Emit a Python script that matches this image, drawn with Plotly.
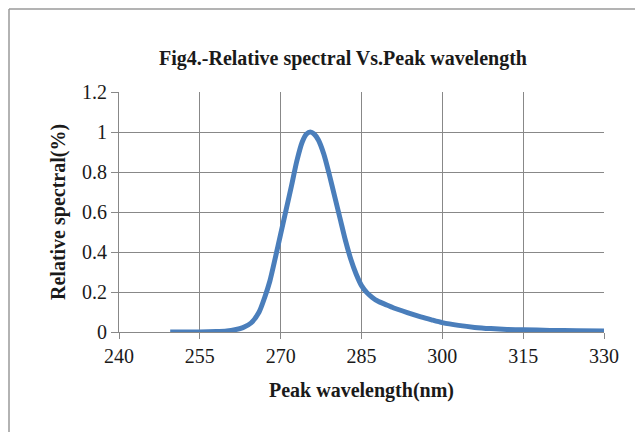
import plotly.graph_objects as go

# Data
wavelength = [249.5, 255, 258, 260, 261.5, 263, 264.5, 266, 267, 268, 269, 270, 271, 272, 273, 274,
              274.8, 275.5, 276.2, 277, 278, 279, 280, 281, 282, 283, 284, 285, 286, 287, 288, 289.5,
              291, 293.5, 296, 298, 300, 303, 306, 309, 312, 315, 320, 325, 330]
relative = [0.0, 0.0, 0.002, 0.005, 0.011, 0.022, 0.045, 0.1, 0.17, 0.255, 0.37, 0.49, 0.61, 0.73, 0.855, 0.95,
            0.99, 1.0, 0.99, 0.96, 0.89, 0.79, 0.68, 0.57, 0.46, 0.365, 0.29, 0.232, 0.197, 0.173, 0.155, 0.137,
            0.12, 0.097, 0.076, 0.061, 0.047, 0.033, 0.023, 0.017, 0.013, 0.011, 0.008, 0.006, 0.005]

x_ticks = [240, 255, 270, 285, 300, 315, 330]
y_ticks = [0, 0.2, 0.4, 0.6, 0.8, 1, 1.2]
y_tick_text = ["0", "0.2", "0.4", "0.6", "0.8", "1", "1.2"]

W, H = 643, 432
OFF = 8  # page body margin offset
L, T = 111, 84
pw, ph = 485, 240
R, B = W - L - pw, H - T - ph

def px(x):
    return (x - OFF - L) / pw

def py(y):
    return (T + ph + OFF - y) / ph

fig = go.Figure()
fig.add_trace(go.Scatter(
    x=wavelength, y=relative, mode="lines",
    line=dict(color="#4a7ebb", width=5, shape="spline", smoothing=0.7),
    hoverinfo="skip", showlegend=False,
))

serif = "Liberation Serif, Times New Roman, serif"
grid = "#888888"
txt = "#1a1a1a"
border = dict(color="#9a9a9a", width=1.5)

fig.update_layout(
    width=W, height=H,
    margin=dict(l=L, r=R, t=T, b=B),
    paper_bgcolor="white", plot_bgcolor="white",
    font=dict(family=serif, color=txt, size=20),
    title=dict(text="<b>Fig4.-Relative spectral Vs.Peak wavelength</b>",
               x=px(343), xref="paper", xanchor="center",
               y=1 - (58 - OFF) / H, yref="container", yanchor="middle",
               font=dict(family=serif, size=20, color=txt)),
    xaxis=dict(range=[240, 330], tickvals=x_ticks, showgrid=True, gridcolor=grid, gridwidth=1,
               showline=True, linecolor=grid, linewidth=1, ticks="outside", ticklen=6,
               tickcolor=grid, zeroline=False,
               tickfont=dict(family=serif, size=20, color=txt)),
    yaxis=dict(range=[0, 1.2], tickvals=y_ticks, ticktext=y_tick_text, showgrid=True,
               gridcolor=grid, gridwidth=1, showline=True, linecolor=grid, linewidth=1,
               ticks="outside", ticklen=7, tickcolor=grid, zeroline=False,
               tickfont=dict(family=serif, size=20, color=txt)),
    annotations=[
        dict(text="<b>Peak wavelength(nm)</b>", xref="paper", yref="paper",
             x=px(361), y=py(390), xanchor="center", yanchor="middle", showarrow=False,
             font=dict(family=serif, size=20, color=txt)),
        dict(text="<b>Relative spectral(%)</b>", xref="paper", yref="paper",
             x=px(58), y=py(212), xanchor="center", yanchor="middle", showarrow=False,
             textangle=-90, font=dict(family=serif, size=20, color=txt)),
    ],
    shapes=[
        dict(type="line", xref="paper", yref="paper", x0=px(9), x1=px(9), y0=py(9), y1=py(445), line=border),
        dict(type="line", xref="paper", yref="paper", x0=px(9), x1=px(637), y0=py(9), y1=py(9), line=border),
        dict(type="line", xref="paper", yref="paper", x0=px(637), x1=px(637), y0=py(9), y1=py(445), line=border),
    ],
)

fig.write_html("out.html")
